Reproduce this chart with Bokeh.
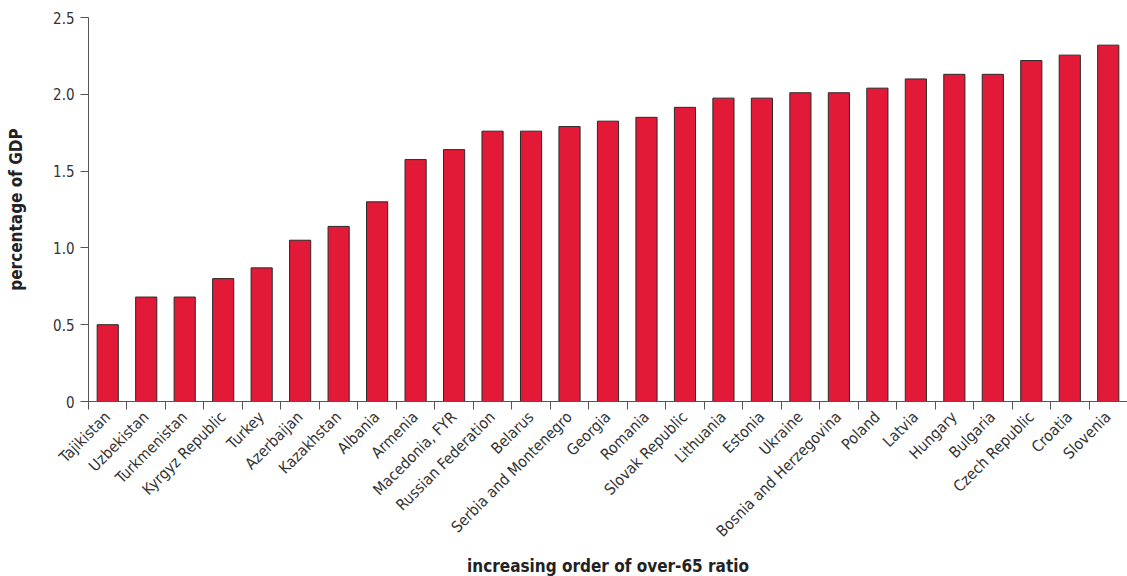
from bokeh.plotting import figure
from bokeh.models import FixedTicker, CustomJSTickFormatter, Range1d, ColumnDataSource
from bokeh.embed import file_html
from bokeh.resources import INLINE
import math

countries = ["Tajikistan", "Uzbekistan", "Turkmenistan", "Kyrgyz Republic", "Turkey",
             "Azerbaijan", "Kazakhstan", "Albania", "Armenia", "Macedonia, FYR",
             "Russian Federation", "Belarus", "Serbia and Montenegro", "Georgia", "Romania",
             "Slovak Republic", "Lithuania", "Estonia", "Ukraine", "Bosnia and Herzegovina",
             "Poland", "Latvia", "Hungary", "Bulgaria", "Czech Republic", "Croatia", "Slovenia"]
values = [0.50, 0.68, 0.68, 0.80, 0.87, 1.05, 1.14, 1.30, 1.575, 1.64,
          1.76, 1.76, 1.79, 1.825, 1.85, 1.915, 1.975, 1.975, 2.01, 2.01,
          2.04, 2.10, 2.13, 2.13, 2.22, 2.255, 2.32]
y_ticks = [0, 0.5, 1.0, 1.5, 2.0, 2.5]

n = len(countries)
xs = [i + 0.5 for i in range(n)]
src = ColumnDataSource(dict(x=xs, top=values, name=countries))

FONT = "DejaVu Sans Condensed, sans-serif"
TXT = "#333333"
AX = "#555555"

p = figure(width=1119, height=568, output_backend="svg", toolbar_location=None,
           x_range=Range1d(0, n), y_range=Range1d(0, 2.5),
           frame_width=1039, frame_height=384,
           min_border_left=88, min_border_top=17, min_border_right=0, min_border_bottom=0)
p.outline_line_color = None
p.xgrid.visible = False
p.ygrid.visible = False

p.vbar(x="x", top="top", bottom=0, width=0.55, source=src,
       fill_color="#E31A37", line_color="#2a2a2a", line_width=1)

# x axis
xa = p.xaxis[0]
xa.ticker = FixedTicker(ticks=xs, minor_ticks=list(range(n + 1)))
xa.formatter = CustomJSTickFormatter(args=dict(names=countries),
                                     code="return names[Math.floor(tick)];")
xa.major_label_orientation = math.pi / 4
xa.major_tick_out = 0
xa.major_tick_in = 0
xa.minor_tick_out = 8
xa.minor_tick_in = 0
xa.minor_tick_line_color = AX
xa.axis_line_color = AX
xa.major_label_text_font = FONT
xa.major_label_text_font_size = "15.5px"
xa.major_label_text_color = TXT
xa.major_label_standoff = 5
xa.axis_label = "increasing order of over-65 ratio"
xa.axis_label_text_font = FONT
xa.axis_label_text_font_style = "bold"
xa.axis_label_text_font_size = "17px"
xa.axis_label_text_color = "#222222"
xa.axis_label_standoff = 6

# y axis
ya = p.yaxis[0]
ya.ticker = FixedTicker(ticks=y_ticks)
ya.formatter = CustomJSTickFormatter(code="return tick == 0 ? '0' : tick.toFixed(1);")
ya.major_tick_out = 8
ya.major_tick_in = 0
ya.minor_tick_out = 0
ya.minor_tick_in = 0
ya.major_tick_line_color = AX
ya.axis_line_color = AX
ya.major_label_text_font = FONT
ya.major_label_text_font_size = "15px"
ya.major_label_text_color = TXT
ya.major_label_standoff = 6
ya.axis_label = "percentage of GDP"
ya.axis_label_text_font = FONT
ya.axis_label_text_font_style = "bold"
ya.axis_label_text_font_size = "17px"
ya.axis_label_text_color = "#222222"
ya.axis_label_standoff = 24

open("out.html", "w").write(file_html(p, INLINE))
